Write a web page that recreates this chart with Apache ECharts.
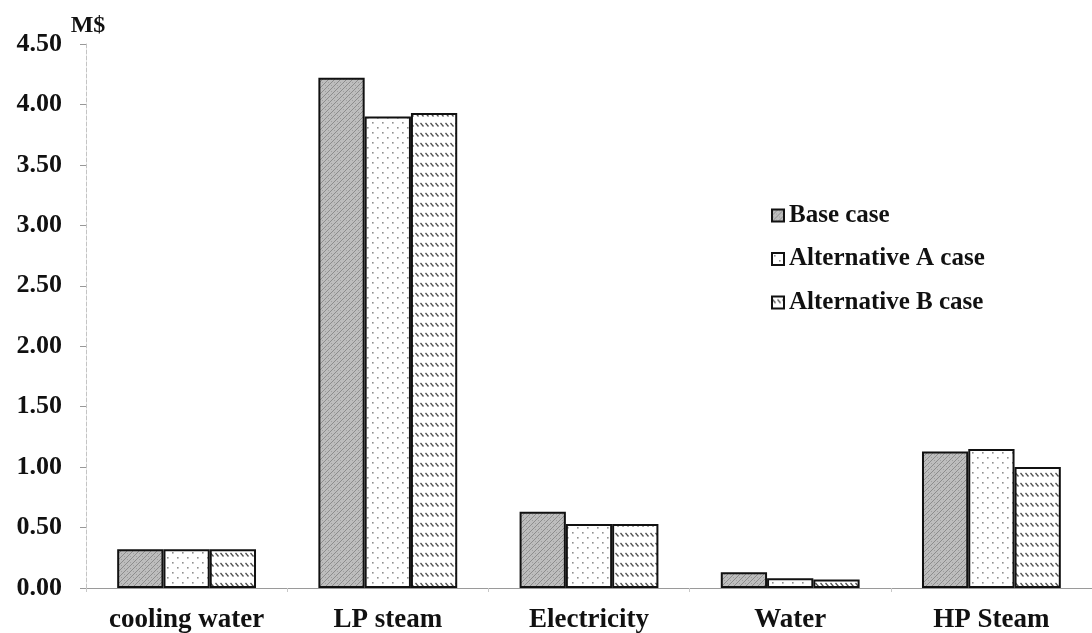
<!DOCTYPE html>
<html>
<head>
<meta charset="utf-8">
<script src="https://cdn.jsdelivr.net/npm/echarts@6/dist/echarts.min.js"></script>
<style>
html,body{margin:0;padding:0;background:#fff;}
#chart{width:1092px;height:633px;}
</style>
</head>
<body>
<div id="chart"></div>
<script>
var categories = ['cooling water', 'LP steam', 'Electricity', 'Water', 'HP Steam'];
var seriesNames = ['Base case', 'Alternative A case', 'Alternative B case'];
var baseCase = [0.32, 4.22, 0.63, 0.13, 1.13];
var altACase = [0.32, 3.90, 0.53, 0.08, 1.15];
var altBCase = [0.32, 3.93, 0.53, 0.07, 1.00];
var yTicks = { min: 0, max: 4.5, interval: 0.5 };
var yUnit = 'M$';

function makePattern(w, h, draw) {
  var c = document.createElement('canvas');
  c.width = w; c.height = h;
  var ctx = c.getContext('2d');
  draw(ctx, w, h);
  return { image: c, repeat: 'repeat' };
}
var basePattern = makePattern(6, 6, function (ctx, w, h) {
  ctx.fillStyle = '#bdbdbd';
  ctx.fillRect(0, 0, w, h);
  ctx.strokeStyle = '#8c8c8c';
  ctx.lineWidth = 1;
  ctx.beginPath();
  ctx.moveTo(0, 6); ctx.lineTo(6, 0);
  ctx.moveTo(-3, 3); ctx.lineTo(3, -3);
  ctx.moveTo(3, 9); ctx.lineTo(9, 3);
  ctx.stroke();
  ctx.fillStyle = '#a0a0a0';
  ctx.fillRect(1, 1, 1, 1);
  ctx.fillRect(4, 4, 1, 1);
});
var altAPattern = makePattern(10, 10, function (ctx, w, h) {
  ctx.fillStyle = '#ffffff';
  ctx.fillRect(0, 0, w, h);
  ctx.fillStyle = '#8f8f8f';
  ctx.fillRect(2, 2, 1.6, 1.6);
  ctx.fillRect(7, 7, 1.6, 1.6);
});
var altBPattern = makePattern(5, 10, function (ctx, w, h) {
  ctx.fillStyle = '#ffffff';
  ctx.fillRect(0, 0, w, h);
  ctx.strokeStyle = '#505050';
  ctx.lineWidth = 1.3;
  ctx.beginPath();
  ctx.moveTo(0.5, 3); ctx.lineTo(3.5, 6.5);
  ctx.stroke();
});

var patterns = [basePattern, altAPattern, altBPattern];
var values = [baseCase, altACase, altBCase];
var fontFam = '"Liberation Serif", "Times New Roman", serif';

var chart = echarts.init(document.getElementById('chart'), null, { renderer: 'canvas' });
chart.setOption({
  animation: false,
  backgroundColor: '#ffffff',
  grid: { left: 86, right: 0, top: 44, bottom: 45, containLabel: false, outerBoundsMode: 'none' },
  legend: {
    orient: 'vertical',
    left: 766,
    top: 198,
    itemWidth: 12,
    itemHeight: 12,
    itemGap: 18.5,
    icon: 'rect',
    data: seriesNames,
    textStyle: { fontFamily: fontFam, fontWeight: 'bold', fontSize: 25, color: '#111', lineHeight: 25 }
  },
  xAxis: {
    type: 'category',
    data: categories,
    axisLine: { lineStyle: { color: '#9a9a9a', width: 1 } },
    axisTick: { show: true, length: 4, lineStyle: { color: '#c8c8c8' } },
    axisLabel: { interval: 0, hideOverlap: false, fontFamily: fontFam, fontWeight: 'bold', fontSize: 27, color: '#111', margin: 19 }
  },
  yAxis: {
    type: 'value',
    min: yTicks.min,
    max: yTicks.max,
    interval: yTicks.interval,
    name: yUnit,
    nameLocation: 'end',
    nameGap: 6,
    nameTextStyle: { fontFamily: fontFam, fontWeight: 'bold', fontSize: 24, color: '#111', padding: [0, 0, 0, 4] },
    axisLine: { show: true, lineStyle: { color: '#c4c4c4', width: 1, type: 'dashed' } },
    axisTick: { show: true, length: 6, lineStyle: { color: '#999' } },
    splitLine: { show: false },
    axisLabel: {
      fontFamily: fontFam, fontWeight: 'bold', fontSize: 26, color: '#111', margin: 24,
      formatter: function (v) { return v.toFixed(2); }
    }
  },
  series: seriesNames.map(function (name, i) {
    return {
      name: name,
      type: 'bar',
      data: values[i],
      barGap: '0%',
      barCategoryGap: '31%',
      itemStyle: { color: patterns[i], borderColor: '#111', borderWidth: 2 }
    };
  })
});
</script>
</body>
</html>
